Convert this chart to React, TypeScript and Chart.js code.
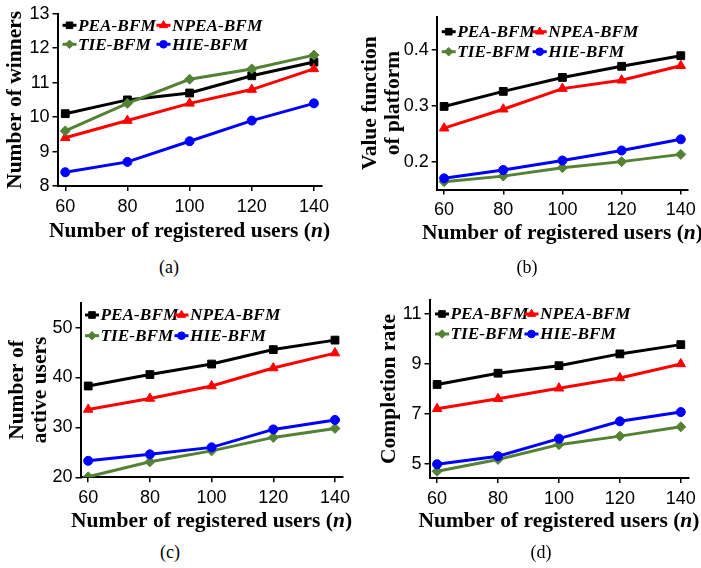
import React, { useEffect, useRef } from 'react';
import { Chart, registerables } from 'chart.js';

Chart.register(...registerables);

// ---------- data ----------
const xValues = [60, 80, 100, 120, 140];
const seriesNames = ['PEA-BFM', 'NPEA-BFM', 'TIE-BFM', 'HIE-BFM'];
const seriesColors = ['#000000', '#ff0000', '#548235', '#0000ff'];
const seriesMarkers = ['rect', 'triangle', 'rectRot', 'circle'];

// (a) Number of winners
const winnersPEA = [10.1, 10.5, 10.7, 11.2, 11.6];
const winnersNPEA = [9.4, 9.9, 10.4, 10.8, 11.4];
const winnersTIE = [9.6, 10.4, 11.1, 11.4, 11.8];
const winnersHIE = [8.4, 8.7, 9.3, 9.9, 10.4];

// (b) Value function of platform
const valuePEA = [0.299, 0.326, 0.351, 0.371, 0.39];
const valueNPEA = [0.26, 0.294, 0.331, 0.346, 0.372];
const valueTIE = [0.164, 0.174, 0.189, 0.2, 0.213];
const valueHIE = [0.17, 0.185, 0.202, 0.22, 0.24];

// (c) Number of active users
const activePEA = [38.3, 40.6, 42.7, 45.6, 47.5];
const activeNPEA = [33.6, 35.8, 38.3, 41.9, 44.9];
const activeTIE = [20.1, 23.1, 25.3, 28.0, 29.8];
const activeHIE = [23.3, 24.6, 26.0, 29.6, 31.5];

// (d) Completion rate
const completionPEA = [8.18, 8.63, 8.93, 9.4, 9.77];
const completionNPEA = [7.21, 7.61, 8.03, 8.44, 9.0];
const completionTIE = [4.72, 5.19, 5.78, 6.12, 6.49];
const completionHIE = [5.0, 5.32, 6.02, 6.71, 7.08];

// tick labels
const xTickLabels = ['60', '80', '100', '120', '140'];
const yTicksA = [8, 9, 10, 11, 12, 13];
const yTickLabelsA = ['8', '9', '10', '11', '12', '13'];
const yTicksB = [0.2, 0.3, 0.4];
const yTickLabelsB = ['0.2', '0.3', '0.4'];
const yTicksC = [20, 30, 40, 50];
const yTickLabelsC = ['20', '30', '40', '50'];
const yTicksD = [5, 7, 9, 11];
const yTickLabelsD = ['5', '7', '9', '11'];

const xTitleMain = 'Number of registered users (';
const xTitleVar = 'n';
const xTitleEnd = ')';

// ---------- layout ----------
type PanelCfg = {
  box: { left: number; top: number; width: number; height: number };
  area: { left: number; top: number; right: number; bottom: number };
  series: number[][];
  yTicks: number[];
  yTickLabels: string[];
  yMin: number;
  yMax: number;
  yTitle: string | string[];
  yTitleX: number;
  xTitleBaseline: number;
  legend: { dx: number; col2: number; row1: number; row2: number };
  caption: { text: string; x: number; y: number };
};

const panels: PanelCfg[] = [
  {
    box: { left: 0, top: 0, width: 362, height: 250 },
    area: { left: 57.5, top: 13.5, right: 321.7, bottom: 186 },
    series: [winnersPEA, winnersNPEA, winnersTIE, winnersHIE],
    yTicks: yTicksA,
    yTickLabels: yTickLabelsA,
    yMin: 8,
    yMax: 13,
    yTitle: 'Number of winners',
    yTitleX: 15,
    xTitleBaseline: 237,
    legend: { dx: 5, col2: 99, row1: 11.5, row2: 30.5 },
    caption: { text: '(a)', x: 169, y: 267 },
  },
  {
    box: { left: 350, top: 0, width: 351, height: 250 },
    area: { left: 436.7, top: 16.7, right: 695.5, bottom: 189.5 },
    series: [valuePEA, valueNPEA, valueTIE, valueHIE],
    yTicks: yTicksB,
    yTickLabels: yTickLabelsB,
    yMin: 0.15,
    yMax: 0.46,
    yTitle: ['Value function', 'of platform'],
    yTitleX: 370,
    xTitleBaseline: 239.3,
    legend: { dx: 5, col2: 96, row1: 15, row2: 35 },
    caption: { text: '(b)', x: 527, y: 267 },
  },
  {
    box: { left: 0, top: 284, width: 362, height: 250 },
    area: { left: 80.5, top: 302.7, right: 342.7, bottom: 477.3 },
    series: [activePEA, activeNPEA, activeTIE, activeHIE],
    yTicks: yTicksC,
    yTickLabels: yTickLabelsC,
    yMin: 20,
    yMax: 55,
    yTitle: ['Number of', 'active users'],
    yTitleX: 17,
    xTitleBaseline: 527.3,
    legend: { dx: 4.5, col2: 94, row1: 12.3, row2: 33 },
    caption: { text: '(c)', x: 170, y: 552 },
  },
  {
    box: { left: 350, top: 284, width: 351, height: 250 },
    area: { left: 429.5, top: 300, right: 695.5, bottom: 478 },
    series: [completionPEA, completionNPEA, completionTIE, completionHIE],
    yTicks: yTicksD,
    yTickLabels: yTickLabelsD,
    yMin: 4.45,
    yMax: 11.55,
    yTitle: 'Completion rate',
    yTitleX: 389.3,
    xTitleBaseline: 527.3,
    legend: { dx: 5.5, col2: 95, row1: 14, row2: 34 },
    caption: { text: '(d)', x: 541, y: 552 },
  },
];

const pointRadii: Record<string, number> = { rect: 5.5, triangle: 5.5, rectRot: 5, circle: 4.5 };
const TITLE_FONT = '"Liberation Serif", "Times New Roman", serif';
const TICK_FONT = '"Liberation Sans", Arial, sans-serif';

function drawMarker(ctx: CanvasRenderingContext2D, style: string, x: number, y: number, r: number, color: string) {
  ctx.save();
  ctx.fillStyle = color;
  ctx.strokeStyle = color;
  ctx.lineWidth = 1;
  ctx.beginPath();
  if (style === 'rect') {
    const s = r * Math.SQRT1_2;
    ctx.rect(x - s, y - s, 2 * s, 2 * s);
  } else if (style === 'triangle') {
    let a = 0;
    ctx.moveTo(x + Math.sin(a) * r, y - Math.cos(a) * r);
    a += (2 * Math.PI) / 3;
    ctx.lineTo(x + Math.sin(a) * r, y - Math.cos(a) * r);
    a += (2 * Math.PI) / 3;
    ctx.lineTo(x + Math.sin(a) * r, y - Math.cos(a) * r);
    ctx.closePath();
  } else if (style === 'rectRot') {
    ctx.moveTo(x, y - r);
    ctx.lineTo(x + r, y);
    ctx.lineTo(x, y + r);
    ctx.lineTo(x - r, y);
    ctx.closePath();
  } else {
    ctx.arc(x, y, r, 0, Math.PI * 2);
  }
  ctx.fill();
  ctx.stroke();
  ctx.restore();
}

function Panel({ cfg }: { cfg: PanelCfg }) {
  const ref = useRef<HTMLCanvasElement | null>(null);

  useEffect(() => {
    if (!ref.current) return;
    const { box, area } = cfg;
    const titleLineHeight = 1.1;
    const titleSize = 21.5;

    const overlay = {
      id: 'overlay',
      afterDraw(chart: any) {
        const ctx: CanvasRenderingContext2D = chart.ctx;
        const ca = chart.chartArea;
        // legend
        ctx.save();
        ctx.font = `italic bold 17.3px ${TITLE_FONT}`;
        ctx.textBaseline = 'middle';
        ctx.textAlign = 'left';
        seriesNames.forEach((name, i) => {
          const col = i % 2;
          const row = Math.floor(i / 2);
          const x0 = ca.left + cfg.legend.dx + (col === 1 ? cfg.legend.col2 - cfg.legend.dx : 0);
          const y0 = ca.top + (row === 0 ? cfg.legend.row1 : cfg.legend.row2);
          ctx.strokeStyle = seriesColors[i];
          ctx.lineWidth = 3;
          ctx.beginPath();
          ctx.moveTo(x0, y0);
          ctx.lineTo(x0 + 14, y0);
          ctx.stroke();
          drawMarker(ctx, seriesMarkers[i], x0 + 7, y0, pointRadii[seriesMarkers[i]] * 0.85, seriesColors[i]);
          ctx.fillStyle = '#000';
          ctx.fillText(name, x0 + 15.5, y0 + 1);
        });
        // x title with italic variable
        ctx.textBaseline = 'alphabetic';
        const fMain = `bold ${titleSize}px ${TITLE_FONT}`;
        const fVar = `italic bold ${titleSize}px ${TITLE_FONT}`;
        ctx.font = fMain;
        const w1 = ctx.measureText(xTitleMain).width;
        const w3 = ctx.measureText(xTitleEnd).width;
        ctx.font = fVar;
        const w2 = ctx.measureText(xTitleVar).width;
        const total = w1 + w2 + w3;
        let x = (ca.left + ca.right) / 2 - total / 2;
        const y = cfg.xTitleBaseline - box.top;
        ctx.fillStyle = '#000';
        ctx.font = fMain;
        ctx.fillText(xTitleMain, x, y);
        x += w1;
        ctx.font = fVar;
        ctx.fillText(xTitleVar, x, y);
        x += w2;
        ctx.font = fMain;
        ctx.fillText(xTitleEnd, x, y);
        ctx.restore();
      },
    };

    const datasets = cfg.series.map((vals, i) => ({
      label: seriesNames[i],
      data: xValues.map((xv, j) => ({ x: xv, y: vals[j] })),
      borderColor: seriesColors[i],
      backgroundColor: seriesColors[i],
      pointBackgroundColor: seriesColors[i],
      pointBorderColor: seriesColors[i],
      pointBorderWidth: 1,
      pointStyle: seriesMarkers[i],
      pointRadius: pointRadii[seriesMarkers[i]],
      borderWidth: 3,
      tension: 0,
      order: 4 - i,
    }));

    const chart = new Chart(ref.current, {
      type: 'line',
      data: { datasets },
      plugins: [overlay],
      options: {
        responsive: false,
        animation: false,
        events: [],
        layout: {
          padding: {
            left: 0,
            top: area.top - box.top,
            right: box.left + box.width - area.right,
            bottom: 0,
          },
        },
        plugins: { legend: { display: false }, tooltip: { enabled: false } },
        scales: {
          x: {
            type: 'linear',
            min: 57.5,
            max: 142.5,
            afterFit: (s: any) => {
              s.height = box.top + box.height - area.bottom;
            },
            afterBuildTicks: (s: any) => {
              s.ticks = xValues.map((v) => ({ value: v }));
            },
            ticks: {
              autoSkip: false,
              maxRotation: 0,
              padding: 5,
              color: '#000',
              font: { family: TICK_FONT, size: 18, lineHeight: 1.2 },
              callback: (v: any) => xTickLabels[xValues.indexOf(Number(v))] ?? '',
            },
            grid: { drawOnChartArea: false, color: '#000', lineWidth: 1.5, tickLength: 5 },
            border: { display: true, color: '#000', width: 2 },
          },
          y: {
            type: 'linear',
            min: cfg.yMin,
            max: cfg.yMax,
            afterFit: (s: any) => {
              s.width = area.left - box.left;
            },
            afterBuildTicks: (s: any) => {
              s.ticks = cfg.yTicks.map((v) => ({ value: v }));
            },
            ticks: {
              autoSkip: false,
              padding: 3,
              color: '#000',
              font: { family: TICK_FONT, size: 18, lineHeight: 1.2 },
              callback: (v: any) => {
                const idx = cfg.yTicks.findIndex((t) => Math.abs(t - Number(v)) < 1e-9);
                return idx >= 0 ? cfg.yTickLabels[idx] : '';
              },
            },
            grid: { drawOnChartArea: false, color: '#000', lineWidth: 1.5, tickLength: 5 },
            border: { display: true, color: '#000', width: 2 },
            title: {
              display: true,
              text: cfg.yTitle,
              color: '#000',
              font: { family: TITLE_FONT, size: titleSize, weight: 'bold', lineHeight: titleLineHeight },
              padding: { top: cfg.yTitleX - box.left - (titleSize * titleLineHeight) / 2, bottom: 0 },
            },
          },
        },
      } as any,
    });
    return () => chart.destroy();
  }, [cfg]);

  return (
    <div
      style={{
        position: 'absolute',
        left: cfg.box.left,
        top: cfg.box.top,
        width: cfg.box.width,
        height: cfg.box.height,
      }}
    >
      <canvas
        ref={ref}
        width={cfg.box.width}
        height={cfg.box.height}
        style={{ width: cfg.box.width, height: cfg.box.height, display: 'block' }}
      />
    </div>
  );
}

export default function App() {
  return (
    <div
      style={{
        position: 'absolute',
        left: 0,
        top: 0,
        width: 701,
        height: 568,
        background: '#fff',
        overflow: 'hidden',
      }}
    >
      {panels.map((p, i) => (
        <Panel key={i} cfg={p} />
      ))}
      {panels.map((p, i) => (
        <div
          key={'cap' + i}
          style={{
            position: 'absolute',
            left: p.caption.x,
            top: p.caption.y,
            transform: 'translate(-50%, -50%)',
            fontFamily: TITLE_FONT,
            fontSize: 18,
            color: '#000',
            whiteSpace: 'nowrap',
          }}
        >
          {p.caption.text}
        </div>
      ))}
    </div>
  );
}
